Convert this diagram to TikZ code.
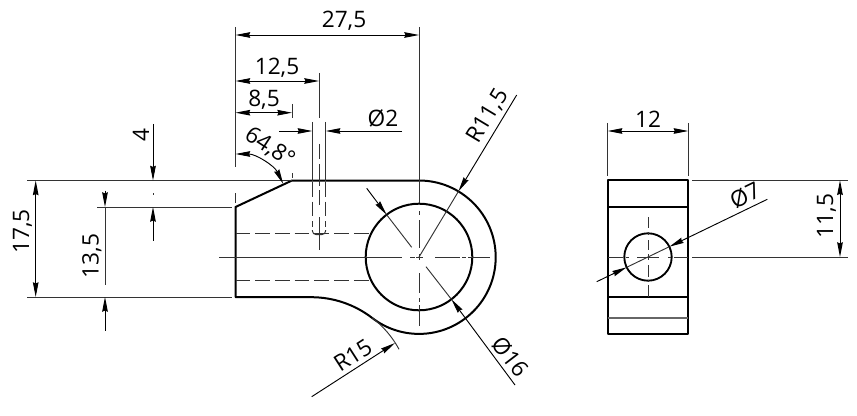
\documentclass[tikz,border=0pt]{standalone}
\usepackage{fontspec}
\setmainfont{Open Sans}
\usetikzlibrary{arrows.meta}

\begin{document}
\begin{tikzpicture}[x=0.75pt, y=0.75pt,
    outl/.style = {line width=1.5pt, line join=round},
    fine/.style = {line width=0.7pt, black!80},
    hid/.style = {line width=0.75pt, black!80, dash pattern=on 11pt off 3.8pt},
    arr/.style = {line width=0.7pt, -{Stealth[length=11pt, width=4.2pt, inset=0.8pt]}},
    arrs/.style = {line width=0.7pt, {Stealth[length=11pt, width=4.2pt, inset=0.8pt]}-{Stealth[length=11pt, width=4.2pt, inset=0.8pt]}},
    lab/.style = {inner sep=0pt, text height=12.3pt, text depth=0pt, font=\fontsize{17}{20}\selectfont}]
\useasboundingbox (0,0) rectangle (857,415);
\coordinate (c) at (419,158);
\coordinate (d) at (648,158);

% side view
\draw[outl] (235.5,118) -- (235.5,208) -- (292,234.5) -- (419,234.5)
    arc (90:-127.6:76.7) arc (52.4:90:100) -- cycle;
\draw[outl] (c) circle (53.3);
\draw[hid] (235.5,181.3) -- (371,181.3);
\draw[hid] (235.5,134.7) -- (371,134.7);
\draw[hid] (312.3,233) -- (312.3,188);
\draw[hid] (325.7,233) -- (325.7,188);
\draw[fine, rounded corners=3pt] (312.3,185) -- (312.3,180.3) -- (325.7,180.3) -- (325.7,185);

% center lines
\draw[fine] (219,158) -- (402,158) (410,158) -- (415,158) (416,158) -- (423,158)
    (435,158) -- (460,158) (462,158) -- (466,158) (468,158) -- (490,158);
\draw[fine] (419,388) -- (419,212) (419,204) -- (419,200) (419,195) -- (419,167)
    (419,161) -- (419,155) (419,142) -- (419,122) (419,117) -- (419,113) (419,110) -- (419,89);
\draw[fine] (319,342) -- (319,297) (319,271) -- (319,256) (319,251) -- (319,229)
    (319,225) -- (319,210) (319,198) -- (319,165);
\draw[fine] (235.5,388) -- (235.5,248) (235.5,222) -- (235.5,212);
\draw[fine] (292,311) -- (292,297) (292,242) -- (292,237);
\draw[fine] (153,222) -- (153,220.5);

% extension lines
\draw[fine] (27,234.5) -- (292,234.5);
\draw[fine] (27,118) -- (232,118);
\draw[fine] (97,208) -- (232,208);
\draw[fine] (312.3,293) -- (312.3,234.5);
\draw[fine] (325.7,293) -- (325.7,234.5);

% dimensions
\draw[arrs] (235.5,380) -- (419,380);
\node[lab] (l275) at (344,395.3) {27,5};
\draw[arrs] (235.5,334) -- (319,334);
\node[lab] (l125) at (277,349) {12,5};
\draw[arrs] (235.5,302.3) -- (292,302.3);
\node[lab] (l85) at (264,316.5) {8,5};
\draw[arr] (279,284) -- (312.3,284);
\draw[arr] (402,284) -- (325.7,284);
\node[lab] (ld2) at (383,296.5) {Ø2};
\draw[arrs] (35.7,234.5) -- (35.7,118);
\node[lab, rotate=90] (l175) at (20.8,183.3) {17,5};
\draw[arr] (105,224.3) -- (105,208);
\draw[fine] (105,208) -- (105,130);
\draw[arr] (105,84.3) -- (105,118);
\node[lab, rotate=90] (l135) at (90.3,159) {13,5};
\draw[arr] (153,291) -- (153,234.5);
\draw[arr] (153,174.3) -- (153,208);
\node[lab, rotate=90] (l4) at (141,280) {4};
\draw[arrs] (235.5,261) arc (90:26:53);
\node[lab, rotate=-33] (lang) at (270.5,269) {64,8°};

% leaders
\coordinate (r11) at (458.5,223.7);
\draw[arr] (516.7,320) -- (r11);
\draw[fine] (r11) -- (c);
\node[lab, rotate=59] (lr11) at (486.7,300) {R11,5};
\coordinate (d16a) at (386.6,200.3);
\coordinate (d16b) at (451.4,115.7);
\draw[arr] (366.7,226.7) -- (d16a);
\draw[fine] (d16a) -- (411.7,167.7);
\draw[arr] (515,30) -- (d16b);
\draw[fine] (d16b) -- (426,148.3);
\node[lab, rotate=-52.6] (ld16) at (510.7,58.3) {Ø16};
\coordinate (r15) at (395,72);
\draw[arr] (311.7,18.3) -- (r15);
\draw[fine] (372.2,97.2) arc (52.4:28.5:100);
\node[lab, rotate=32.7] (lr15) at (352.7,60) {R15};

% end view
\draw[outl] (607.7,81) rectangle (688.3,234.7);
\draw[outl] (607.7,208) -- (688.3,208);
\draw[outl] (607.7,118) -- (688.3,118);
\draw[line width=1pt, black!60] (607.7,97) -- (688.3,97);
\draw[line width=1.4pt] (d) circle (23.7);
\draw[fine] (608,158) -- (623,158) (626,158) -- (629,158) (637,158) -- (659,158)
    (668,158) -- (671,158) (674,158) -- (688,158);
\draw[fine] (648,198) -- (648,187) (648,183) -- (648,180) (648,175) -- (648,165)
    (648,161) -- (648,155) (648,150) -- (648,138) (648,135) -- (648,133) (648,130) -- (648,118);
\draw[fine] (607.7,292) -- (607.7,239);
\draw[fine] (688.3,292) -- (688.3,239);
\draw[arrs] (607.7,284) -- (688.3,284);
\node[lab] (l12) at (648,296) {12};
\draw[fine] (692.3,234.7) -- (848,234.7);
\draw[fine] (692.3,158) -- (848,158);
\draw[arrs] (840,234.7) -- (840,158);
\node[lab, rotate=90] (l115) at (825,199) {11,5};
\coordinate (d7a) at (626.7,147.7);
\coordinate (d7b) at (669.3,168.3);
\draw[arr] (596.7,133.3) -- (d7a);
\draw[fine] (d7a) -- (d7b);
\draw[arr] (767.3,215.7) -- (d7b);
\node[lab, rotate=25.8] (ld7) at (745,220) {Ø7};
\end{tikzpicture}
\end{document}
